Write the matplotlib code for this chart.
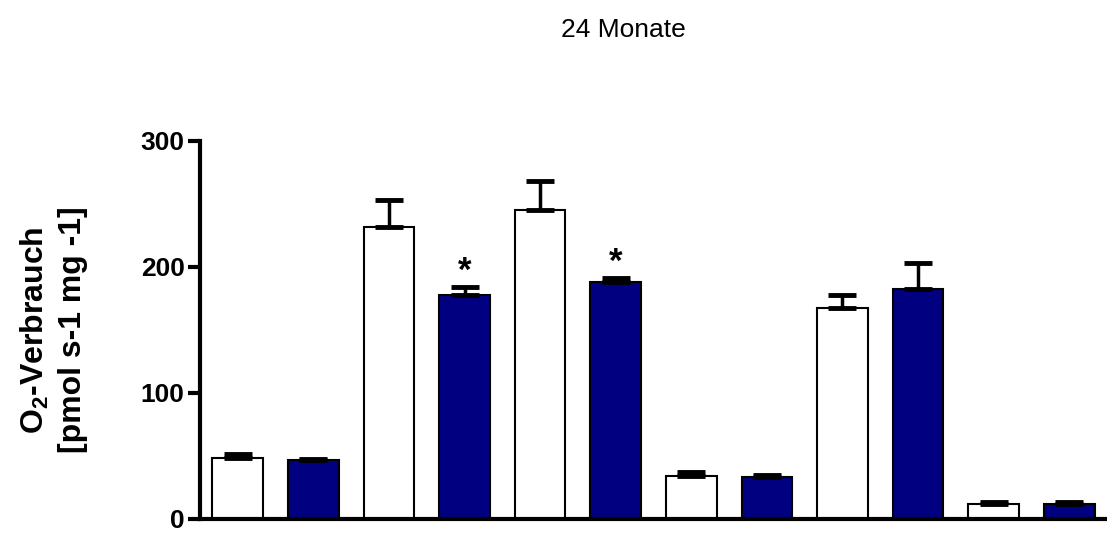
import numpy as np
import matplotlib
matplotlib.use('Agg')
import matplotlib.pyplot as plt

plt.rcParams['font.family'] = ['Liberation Sans', 'DejaVu Sans']
plt.rcParams['mathtext.fontset'] = 'custom'
plt.rcParams['mathtext.bf'] = 'Liberation Sans:bold'
plt.rcParams['mathtext.rm'] = 'Liberation Sans:bold'

# values (12 bars, alternating white / navy)
means = [48.5, 47, 232, 178, 245, 188, 34.5, 33.5, 167.5, 182.5, 12, 12]
errs = [3, 0.8, 21, 6, 23, 3, 3, 1.5, 10.5, 20.5, 1.8, 1.8]
colors = ['white', '#000080'] * 6
stars = [3, 5]
yticks = [0, 100, 200, 300]

fig = plt.figure(figsize=(11.07, 5.33), dpi=100)
ax = fig.add_axes([200/1107, 14/533, 907/1107, 378/533])

x = np.arange(len(means))
ax.bar(x, means, width=0.67, color=colors, edgecolor='black', linewidth=1.5, zorder=2)
ax.errorbar(x, means, yerr=[np.zeros(len(errs)), errs], fmt='none', ecolor='black',
            elinewidth=2.5, capsize=10, capthick=3.5, zorder=3)
for i in stars:
    ax.text(x[i], means[i] + errs[i] + 5, '*', ha='center', va='baseline',
            fontsize=25, fontweight='bold')

ax.set_xlim(-0.5, 11.5)
ax.set_ylim(0, 300)
ax.set_yticks(yticks)
ax.set_xticks([])
for s in ['top', 'right']:
    ax.spines[s].set_visible(False)
for s in ['left', 'bottom']:
    ax.spines[s].set_linewidth(3)
ax.tick_params(axis='y', length=9, width=3, pad=2, labelsize=19)
for lab in ax.get_yticklabels():
    lab.set_fontweight('bold')

ax.set_ylabel('O$_{\\mathbf{2}}$-Verbrauch\n[pmol s-1 mg -1]', fontsize=23,
              fontweight='bold', linespacing=1.3)
ax.yaxis.set_label_coords(-112/907, 0.5)

fig.text(623/1107, 1 - 30/533, '24 Monate', ha='center', va='center', fontsize=19)

fig.savefig('out.png', dpi=100)
